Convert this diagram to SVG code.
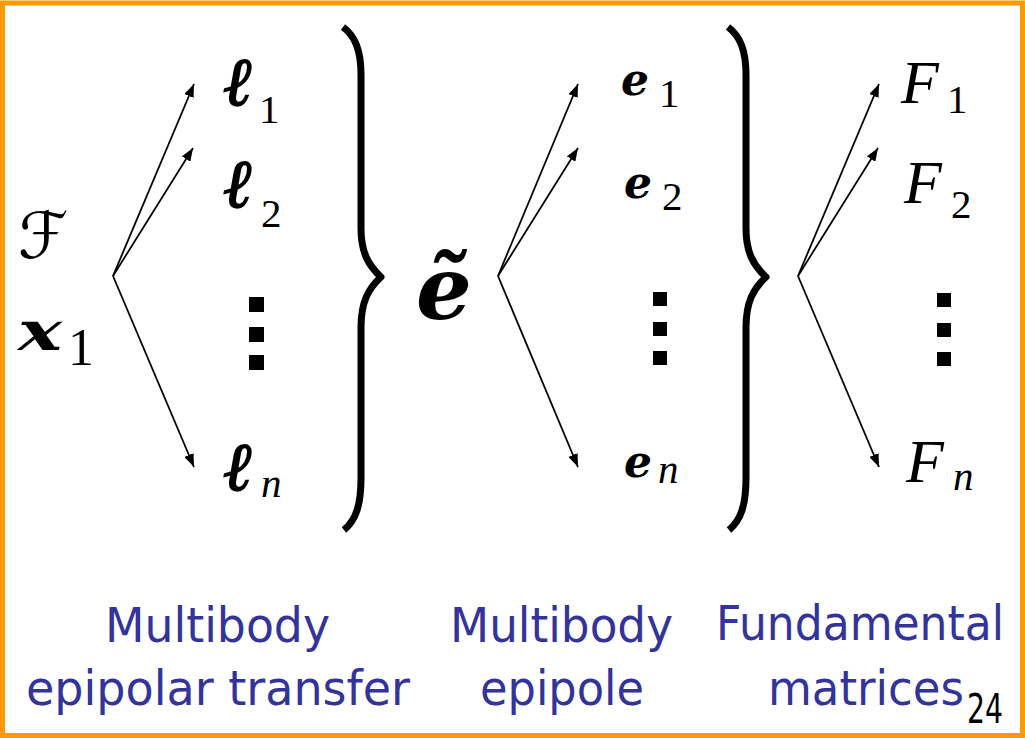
<svg xmlns="http://www.w3.org/2000/svg" width="1025" height="738" viewBox="0 0 1025 738">
<style>
.bi{font-family:"DejaVu Serif","Liberation Serif",serif;font-style:italic;font-weight:bold;fill:#000}
.ell{font-family:"DejaVu Serif","Liberation Serif",serif;font-style:italic;font-weight:bold;fill:#000;stroke:#000;stroke-width:1.6}
.it{font-family:"Liberation Serif","DejaVu Serif",serif;font-style:italic;fill:#000}
.rm{font-family:"Liberation Serif","DejaVu Serif",serif;fill:#000}
.lab{font-family:"DejaVu Sans","Liberation Sans",sans-serif;fill:#333399;font-size:48px}
.arr{stroke:#000;stroke-width:1.8;fill:none;marker-end:url(#ah)}
.brace{stroke:#000;stroke-width:7;fill:none;stroke-linejoin:round}
.dot{fill:#000}
</style>
<defs>
<marker id="ah" markerUnits="userSpaceOnUse" markerWidth="14" markerHeight="10" refX="13" refY="5" orient="auto">
<path d="M0,0 L13,5 L0,10 z" fill="#000"/>
</marker>
</defs>
<rect x="2.5" y="3" width="1020" height="732.5" fill="#fff" stroke="#FF9900" stroke-width="5"/>

<g id="input">
<text x="18" y="258" font-family="DejaVu Serif, DejaVu Sans, serif" font-style="italic" font-size="64">ℱ</text>
<text class="bi" x="18" y="350" font-size="54" textLength="44" lengthAdjust="spacingAndGlyphs">x</text>
<text class="rm" x="68" y="365" font-size="52">1</text>
</g>

<g id="lines">
<text class="ell" x="224" y="105" font-size="68">ℓ</text><text class="rm" x="259" y="123" font-size="41">1</text>
<text class="ell" x="224" y="207" font-size="68">ℓ</text><text class="rm" x="261" y="227" font-size="41">2</text>
<text class="ell" x="224" y="490" font-size="68">ℓ</text><text class="it" x="261" y="497" font-size="41">n</text>
<rect class="dot" x="249" y="297" width="15" height="15"/>
<rect class="dot" x="249" y="327" width="15" height="15"/>
<rect class="dot" x="249" y="355" width="15" height="15"/>
</g>

<g id="brace1">
<path class="brace" d="M343,27 C355,36 361,50 361,75 L361,228 C361,252 368,265 381,277 C368,289 361,302 361,328 L361,478 C361,505 356,520 344,530"/>
</g>

<g id="epipole">
<text class="bi" x="416" y="319" font-size="88">ẽ</text>
</g>

<g id="epipoles">
<text class="bi" x="621" y="95" font-size="44">e</text><text class="rm" x="659" y="107" font-size="41">1</text>
<text class="bi" x="624" y="198" font-size="44">e</text><text class="rm" x="662" y="210" font-size="41">2</text>
<text class="bi" x="624" y="477" font-size="44">e</text><text class="it" x="658" y="483" font-size="41">n</text>
<rect class="dot" x="653" y="292" width="14" height="14"/>
<rect class="dot" x="653" y="322" width="14" height="14"/>
<rect class="dot" x="653" y="351" width="14" height="14"/>
</g>

<g id="brace2">
<path class="brace" transform="translate(385,0)" d="M343,27 C355,36 361,50 361,75 L361,228 C361,252 368,265 381,277 C368,289 361,302 361,328 L361,478 C361,505 356,520 344,530"/>
</g>

<g id="fundamentals">
<text class="it" x="901" y="103" font-size="62">F</text><text class="rm" x="947" y="113" font-size="41">1</text>
<text class="it" x="904" y="203" font-size="62">F</text><text class="rm" x="951" y="218" font-size="41">2</text>
<text class="it" x="906" y="482" font-size="62">F</text><text class="it" x="953" y="490" font-size="41">n</text>
<rect class="dot" x="937" y="293" width="14" height="14"/>
<rect class="dot" x="937" y="323" width="14" height="14"/>
<rect class="dot" x="937" y="352" width="14" height="14"/>
</g>

<g id="connectors">
<line class="arr" x1="113" y1="276" x2="194" y2="84"/>
<line class="arr" x1="113" y1="276" x2="193" y2="148"/>
<line class="arr" x1="113" y1="276" x2="194" y2="467"/>
<line class="arr" x1="498" y1="276" x2="578" y2="84"/>
<line class="arr" x1="498" y1="276" x2="578" y2="148"/>
<line class="arr" x1="498" y1="276" x2="578" y2="467"/>
<line class="arr" x1="798" y1="276" x2="879" y2="84"/>
<line class="arr" x1="798" y1="276" x2="878" y2="148"/>
<line class="arr" x1="798" y1="276" x2="879" y2="467"/>
</g>

<g id="labels">
<text class="lab" x="105" y="642" textLength="225" lengthAdjust="spacingAndGlyphs">Multibody</text>
<text class="lab" x="26" y="705" textLength="384" lengthAdjust="spacingAndGlyphs">epipolar transfer</text>
<text class="lab" x="450" y="642" textLength="223" lengthAdjust="spacingAndGlyphs">Multibody</text>
<text class="lab" x="480" y="705" textLength="164" lengthAdjust="spacingAndGlyphs">epipole</text>
<text class="lab" x="716" y="640" textLength="288" lengthAdjust="spacingAndGlyphs">Fundamental</text>
<text class="lab" x="768" y="705" textLength="196" lengthAdjust="spacingAndGlyphs">matrices</text>
<text x="967" y="723" font-family="DejaVu Sans, sans-serif" font-size="40" fill="#000" textLength="36" lengthAdjust="spacingAndGlyphs">24</text>
</g>
</svg>
